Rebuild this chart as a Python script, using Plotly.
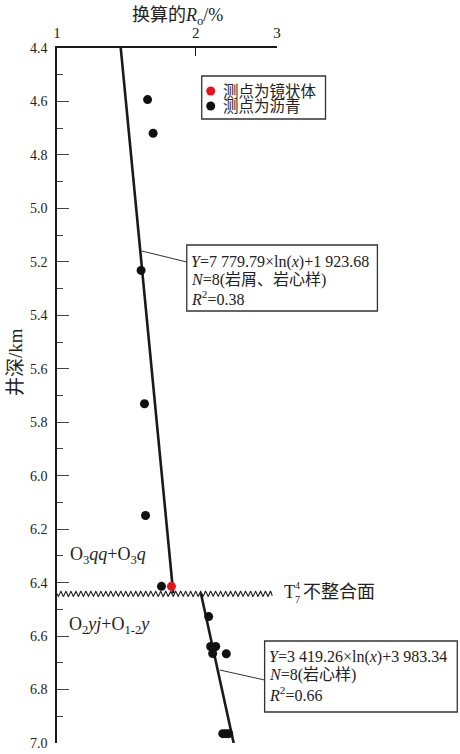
import numpy as np
import plotly.graph_objects as go

# ---- data ----
vit_x = [1.771]
vit_y = [6.414]
asph_up_x = [1.572, 1.616, 1.522, 1.548, 1.556, 1.685]
asph_up_y = [4.593, 4.719, 5.232, 5.731, 6.149, 6.414]
asph_lo_x = [2.133, 2.154, 2.209, 2.176, 2.329, 2.288, 2.322, 2.357]
asph_lo_y = [6.527, 6.639, 6.639, 6.665, 6.666, 6.965, 6.965, 6.965]

fit1_a, fit1_b = 7779.79, 1923.68   # Y(m) = a ln(x) + b
fit1_depth = [4.4, 6.44]
fit2_a, fit2_b = 3419.26, 3983.34
fit2_depth = [6.44, 7.0]
unconf_depth = 6.442

y_ticks = [4.4, 4.6, 4.8, 5.0, 5.2, 5.4, 5.6, 5.8, 6.0, 6.2, 6.4, 6.6, 6.8, 7.0]
x_ticks = [1, 2, 3]

FONT = "Liberation Serif, Noto Sans CJK SC"
INK = "#1a1a1a"

# plot-area geometry in pixels (for decorative paper-referenced items)
L, T, W, H = 57, 48, 220.4, 695
def px(x): return (x - L) / W
def py(y): return (T + H - y) / H

fig = go.Figure()

def fit_x(a, b, d):
    return [float(np.exp((v * 1000 - b) / a)) for v in d]

fig.add_trace(go.Scatter(x=fit_x(fit1_a, fit1_b, fit1_depth), y=fit1_depth, mode="lines",
                         line=dict(color=INK, width=2.6), showlegend=False))
fig.add_trace(go.Scatter(x=fit_x(fit2_a, fit2_b, fit2_depth), y=fit2_depth, mode="lines",
                         line=dict(color=INK, width=2.6), showlegend=False))

# unconformity wavy line
lx = np.linspace(0, np.log10(2.93), 900)
wave_y = unconf_depth + 0.0095 * np.sin(2 * np.pi * (lx * 462) / 5.0)
fig.add_trace(go.Scatter(x=10 ** lx, y=wave_y, mode="lines",
                         line=dict(color=INK, width=1.1), showlegend=False))

fig.add_trace(go.Scatter(x=asph_up_x + asph_lo_x, y=asph_up_y + asph_lo_y, mode="markers",
                         marker=dict(color="#111111", size=9), showlegend=False))
fig.add_trace(go.Scatter(x=vit_x, y=vit_y, mode="markers",
                         marker=dict(color="#e8141c", size=9), showlegend=False))

shapes = []
def rect(x0, y0, x1, y1):
    shapes.append(dict(type="rect", xref="paper", yref="paper", x0=px(x0), x1=px(x1),
                       y0=py(y0), y1=py(y1), line=dict(color="#333", width=1.3)))
def seg(x0, y0, x1, y1):
    shapes.append(dict(type="line", xref="paper", yref="paper", x0=px(x0), x1=px(x1),
                       y0=py(y0), y1=py(y1), line=dict(color="#333", width=1)))
def dot(x, y, color):
    shapes.append(dict(type="circle", xref="paper", yref="paper", xsizemode="pixel",
                       ysizemode="pixel", xanchor=px(x), yanchor=py(y), x0=-4.5, x1=4.5,
                       y0=-4.5, y1=4.5, fillcolor=color, line=dict(width=0)))

rect(202, 76, 326, 119)
dot(211, 91, "#e8141c")
dot(211, 106, "#111111")
rect(187, 245, 378, 311)
seg(142, 251, 187, 262)
rect(265, 641, 458, 712)
seg(220, 670, 265, 680)

ann = []
def text(x, y, s, size=16, anchor="left", angle=0):
    ann.append(dict(xref="paper", yref="paper", x=px(x), y=py(y), text=s, showarrow=False,
                    xanchor=anchor, yanchor="middle", textangle=angle,
                    font=dict(family=FONT, size=size, color="#222")))

text(221, 91, "测点为镜状体", size=15.5)
text(221, 106, "测点为沥青", size=15.5)
text(189, 262, "<i>Y</i>=7 779.79×ln(<i>x</i>)+1 923.68")
text(189, 280, "<i>N</i>=8(岩屑、岩心样)")
text(189, 298, "<i>R</i><sup>2</sup>=0.38")
text(267, 657, "<i>Y</i>=3 419.26×ln(<i>x</i>)+3 983.34")
text(267, 675, "<i>N</i>=8(岩心样)")
text(267, 694, "<i>R</i><sup>2</sup>=0.66")
text(68, 555, "O<sub>3</sub><i>qq</i>+O<sub>3</sub><i>q</i>", size=18)
text(67, 625, "O<sub>2</sub><i>yj</i>+O<sub>1-2</sub><i>y</i>", size=18)
text(282, 592, "T", size=18)
text(293, 585, "4", size=10)
text(293, 599, "7", size=10)
text(301, 592, "不整合面", size=18)
text(178, 16, "换算的<i>R</i><sub>o</sub>/%", size=18, anchor="center")
text(15, 362, "井深/km", size=19, anchor="center", angle=-90)

fig.update_layout(
    template="none",
    width=460, height=754, margin=dict(l=L, r=460 - L - W, t=T, b=754 - T - H),
    paper_bgcolor="white", plot_bgcolor="white", shapes=shapes, annotations=ann,
    xaxis=dict(type="log", range=[0, np.log10(3)], side="top", tickvals=x_ticks,
               ticktext=[str(v) for v in x_ticks], ticks="inside", ticklen=8,
               tickcolor=INK, tickwidth=1.2, showline=True, linecolor=INK, linewidth=1.5,
               showgrid=False, zeroline=False, ticklabelstandoff=2, automargin=False,
               tickfont=dict(family=FONT, size=15, color="#222")),
    yaxis=dict(range=[7.0, 4.4], tickvals=y_ticks, ticktext=[f"{v:.1f}" for v in y_ticks],
               ticks="inside", ticklen=12, tickcolor="#444", tickwidth=1.2,
               minor=dict(ticks="inside", ticklen=6, dtick=0.1, tick0=4.4, tickcolor="#444"),
               showline=True, linecolor=INK, linewidth=1.5, showgrid=False, zeroline=False,
               ticklabelstandoff=5, automargin=False,
               tickfont=dict(family=FONT, size=14, color="#222")),
)

fig.write_html("out.html", config={"displayModeBar": False},
               post_script="document.body.style.margin='0px';"
                           "document.body.style.overflow='hidden';")
